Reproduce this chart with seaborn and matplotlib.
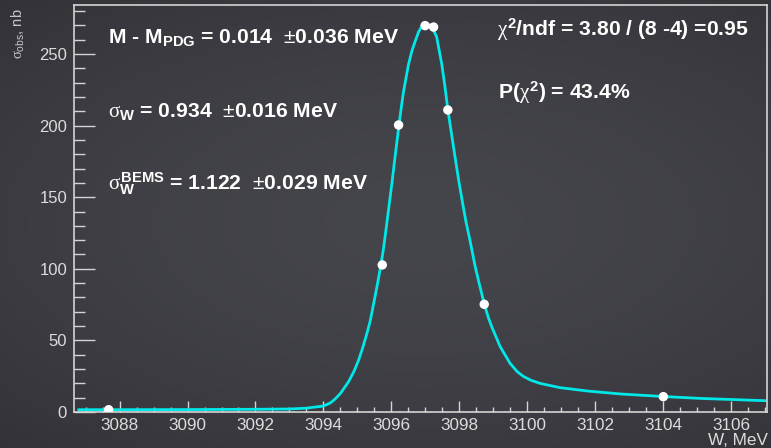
import numpy as np
import matplotlib
matplotlib.use("Agg")
import matplotlib.pyplot as plt
import seaborn as sns
from matplotlib.ticker import MultipleLocator, FixedLocator

# ---------------- data ----------------
point_w = [3087.68, 3095.73, 3096.21, 3096.99, 3097.24, 3097.66, 3098.73, 3104.0]
point_sigma = [1.6, 102.7, 200.4, 269.8, 268.8, 210.9, 75.2, 10.7]

curve_w = [3086.79, 3088.0, 3090.0, 3092.0, 3093.0, 3093.5, 3094.0, 3094.2, 3094.34,
           3094.5, 3094.74, 3094.9, 3095.03, 3095.15, 3095.28, 3095.38, 3095.47,
           3095.57, 3095.67, 3095.76, 3095.86, 3095.94, 3096.01, 3096.1, 3096.21,
           3096.28, 3096.35, 3096.5, 3096.6, 3096.7, 3096.8, 3096.9, 3097.0, 3097.1,
           3097.2, 3097.33, 3097.48, 3097.57, 3097.66, 3097.82, 3097.97, 3098.1,
           3098.2, 3098.31, 3098.46, 3098.6, 3098.73, 3098.85, 3098.95, 3099.2,
           3099.49, 3099.7, 3099.88, 3100.1, 3100.37, 3100.96, 3101.75, 3102.73,
           3104.0, 3105.08, 3107.0]
curve_sigma = [1.6, 1.6, 1.7, 1.9, 2.1, 2.7, 4.2, 6.3, 9.0,
               13.0, 21.2, 28.5, 36.0, 44.5, 55.0, 64.0, 75.0,
               87.0, 100.0, 113.0, 131.0, 146.0, 159.0, 177.0, 198.0,
               211.0, 223.0, 242.5, 252.0, 259.0, 265.5, 269.5, 271.0, 270.8,
               268.5, 262.0, 243.0, 228.0, 211.0, 186.0, 163.0, 145.0,
               132.0, 120.0, 102.0, 88.0, 75.5, 66.0, 59.6, 45.6,
               34.0, 28.2, 24.9, 22.2, 20.0, 17.0, 14.7, 12.6,
               10.8, 9.5, 7.9]

x_ticks = [3088, 3090, 3092, 3094, 3096, 3098, 3100, 3102, 3104, 3106]
y_ticks = [0, 50, 100, 150, 200, 250]
x_range = (3086.66, 3107.05)
y_range = (0, 284.2)

fit_texts = [
    r"M - M$_{\mathbf{PDG}}$ = 0.014  $\pm$0.036 MeV",
    r"$\sigma_{\mathbf{W}}$ = 0.934  $\pm$0.016 MeV",
    r"$\sigma_{\mathbf{W}}^{\mathbf{BEMS}}$ = 1.122  $\pm$0.029 MeV",
    r"$\chi^{\mathbf{2}}$/ndf = 3.80 / (8 -4) =0.95",
    r"P($\chi^{\mathbf{2}}$) = 43.4%",
]
x_title = "W, MeV"
y_title = r"$\sigma_{\mathrm{obs}}$, nb"

# ---------------- styling ----------------
sns.set_theme(style="dark")
plt.rcParams.update({
    "font.family": ["Liberation Sans", "DejaVu Sans"],
    "mathtext.fontset": "custom",
    "mathtext.rm": "Liberation Sans",
    "mathtext.bf": "Liberation Sans:bold",
    "mathtext.it": "Liberation Serif",
    "mathtext.sf": "Liberation Sans",
    "lines.solid_joinstyle": "round",
})

W, H = 771, 448
fig = plt.figure(figsize=(W / 100, H / 100), dpi=100)

# chalkboard-like dark background
bg = fig.add_axes([0, 0, 1, 1], zorder=0)
yy, xx = np.mgrid[0:1:224j, 0:1:385j]
r = np.sqrt(((xx - 0.55) / 0.9) ** 2 + ((yy - 0.5) / 0.75) ** 2)
t = np.clip(r, 0, 1)
c_in = np.array([0x45, 0x45, 0x4c]) / 255
c_out = np.array([0x2f, 0x2f, 0x34]) / 255
img = c_in[None, None, :] * (1 - t[..., None] ** 1.6) + c_out[None, None, :] * (t[..., None] ** 1.6)
bg.imshow(img, extent=[0, 1, 0, 1], aspect="auto", origin="upper")
bg.set_axis_off()

ax = fig.add_axes([74 / W, 1 - 412 / H, (767 - 74) / W, (412 - 5) / H], zorder=1)
ax.patch.set_alpha(0)

sns.lineplot(x=curve_w, y=curve_sigma, ax=ax, color="#00e8e8", lw=2.0,
             sort=False, estimator=None)
sns.scatterplot(x=point_w, y=point_sigma, ax=ax, color="white", s=46,
                edgecolor="none", zorder=3)

ax.set_xlim(*x_range)
ax.set_ylim(*y_range)
ax.set_xlabel("")
ax.set_ylabel("")
ax.grid(False)

axis_col = "#d4d4d4"
for side in ["left", "bottom", "top", "right"]:
    ax.spines[side].set_visible(True)
    ax.spines[side].set_color(axis_col)
    ax.spines[side].set_linewidth(1.2)

ax.xaxis.set_major_locator(FixedLocator(x_ticks))
ax.xaxis.set_minor_locator(MultipleLocator(0.5))
ax.yaxis.set_major_locator(FixedLocator(y_ticks))
ax.yaxis.set_minor_locator(MultipleLocator(10))
ax.set_xticklabels([str(v) for v in x_ticks])
ax.set_yticklabels([str(v) for v in y_ticks])

ax.tick_params(axis="x", which="major", direction="in", length=8, width=1,
               color=axis_col, labelcolor="#dcdcdc", labelsize=12.3, pad=4,
               bottom=True, top=False)
ax.tick_params(axis="x", which="minor", direction="in", length=3.8, width=1,
               color=axis_col, bottom=True, top=False)
ax.tick_params(axis="y", which="major", direction="in", length=15, width=1,
               color=axis_col, labelcolor="#dcdcdc", labelsize=12, pad=5,
               left=True, right=False)
ax.tick_params(axis="y", which="minor", direction="in", length=8, width=1,
               color=axis_col, left=True, right=False)

# axis titles
fig.text(768 / W, 1 - 445 / H, x_title, ha="right", va="baseline",
         color="#dcdcdc", fontsize=12.3)
fig.text(18 / W, 1 - 8 / H, y_title, ha="center", va="top", rotation=90,
         color="#c8c8c8", fontsize=10.5)

# fit result annotations
pos = [(108, 43), (108, 117), (108, 190), (497, 36), (498, 99)]
for (px, py), s in zip(pos, fit_texts):
    fig.text(px / W, 1 - py / H, s, ha="left", va="baseline", color="white",
             fontsize=15.2, fontweight="bold")

fig.savefig("out.png", dpi=100, facecolor=fig.get_facecolor())
